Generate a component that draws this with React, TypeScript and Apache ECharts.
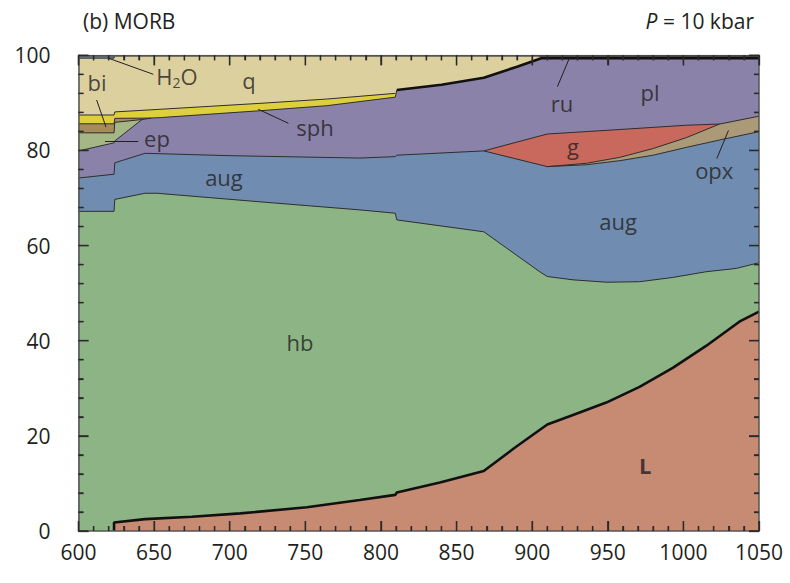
import React, { useEffect, useRef } from "react";
import * as echarts from "echarts";

// Axis ranges and tick steps
const X_MIN = 600, X_MAX = 1050, X_STEP = 50, X_MINOR = 10;
const Y_MIN = 0, Y_MAX = 100, Y_STEP = 20, Y_MINOR = 4;

// Phase-field boundaries (cumulative mode %, top edge of each field) vs temperature (°C)
const ruTop = [[900, 100], [1050, 100]];
const h2oTop = [[600, 100], [623.5, 100]];
const qTop = [[600, 99.4], [623.5, 99.4], [624, 100], [903, 100], [908, 99.5]];
const sphTop = [[600, 87.45], [623.5, 87.45], [624, 88.1], [654, 88.65], [720, 89.9], [764, 90.8], [809.5, 92.0]];
const biTop = [[600, 85.6], [623.5, 85.6], [624, 86.75], [648, 86.8]];
const epTop = [[600, 83.7], [623.5, 83.7], [624, 85.9], [642, 86.5]];
const plTop = [[600, 79.9], [623.5, 81.6], [624, 82.0], [642, 86.5], [648, 86.8], [654, 86.9], [720, 88.35], [764, 89.4], [809.5, 91.2], [810.5, 92.7], [840, 93.8], [868, 95.3], [890, 97.6], [906, 99.4], [1050, 99.4]];
const gTop = [[868, 79.9], [910, 83.45], [958, 84.4], [1002, 85.3], [1024, 85.55]];
const opxTop = [[910, 76.6], [936, 77.3], [958, 78.55], [980, 80.4], [1002, 82.7], [1024, 85.55], [1050, 87.2]];
const augTop = [[600, 74.2], [623.5, 75.0], [624, 77.4], [644, 79.4], [700, 78.9], [786, 78.4], [809.5, 78.7], [810.5, 79.0], [868, 79.9], [910, 76.6], [936, 77.0], [958, 77.85], [980, 79.0], [1002, 80.65], [1024, 82.2], [1050, 83.95]];
const hbTop = [[600, 67.2], [623.5, 67.2], [624, 69.7], [644, 71.0], [652, 71.0], [720, 69.2], [786, 67.5], [809.5, 66.8], [810.5, 65.4], [868, 62.9], [905, 54.5], [910, 53.5], [927, 52.8], [949, 52.3], [971, 52.4], [993, 53.3], [1015, 54.5], [1035, 55.2], [1050, 56.4]];
const meltTop = [[623.5, 0], [623.5, 1.8], [644, 2.5], [675, 3.0], [707, 3.7], [751, 5.0], [786, 6.5], [809.5, 7.6], [810.5, 8.1], [839, 10.2], [868, 12.6], [888, 17.4], [910, 22.4], [927, 24.4], [949, 27.0], [971, 30.3], [993, 34.3], [1015, 38.9], [1037, 44.0], [1050, 46.1]];
const quartzOutLine = [[810.5, 92.7], [840, 93.8], [868, 95.3], [890, 97.6], [906, 99.4], [1050, 99.4]];

// Field labels (data coordinates)
const labelText = ["q", "bi", "ep", "sph", "aug", "hb", "aug", "ru", "pl", "g", "opx", "L"];
const labelX = [712.8, 612.2, 651.9, 756.4, 696.2, 746.5, 956.8, 919.8, 977.9, 927.0, 1020.4, 974.7];
const labelY = [94.8, 94.4, 82.6, 84.9, 74.4, 39.7, 65.2, 90.0, 92.3, 80.9, 75.9, 13.9];
const h2oLabel = [665.1, 95.6];

// Leader lines
const leaderFrom = [[619.7, 99.4], [612.0, 90.6], [617.5, 82.0], [718.9, 88.65], [924.6, 99.4], [1029.8, 84.2]];
const leaderTo = [[649.5, 96.0], [618.2, 84.9], [639.5, 82.0], [738.8, 85.7], [916.7, 93.4], [1022.1, 78.3]];

const FONT = "Open Sans";
const INK = "#231f20";
const TICK = "#2a2a2a";

const W = 790, H = 583;
const GRID = { left: 78.5, right: 31, top: 55.3, bottom: 52 };
const MAJOR_LEN = 10, MINOR_LEN = 5;

function field(name: string, data: number[][], color: string, width = 1, lineColor = "#2e2e2e") {
  return {
    type: "line",
    name,
    data,
    z: 1,
    symbol: "none",
    silent: true,
    lineStyle: { color: lineColor, width },
    areaStyle: { color, opacity: 1, origin: "start" },
    itemStyle: { color },
  };
}

function axisCommon(extra: any) {
  return {
    type: "value",
    z: 30,
    axisLine: { show: true, onZero: false, lineStyle: { color: "#555", width: 1.5 } },
    axisTick: { show: true, inside: true, length: MAJOR_LEN, lineStyle: { color: TICK, width: 1.3, opacity: 1 } },
    minorTick: { show: true, splitNumber: 5, length: MINOR_LEN, lineStyle: { color: TICK, width: 1.3, opacity: 1 } },
    splitLine: { show: false },
    minorSplitLine: { show: false },
    ...extra,
  };
}

export default function App() {
  const ref = useRef<HTMLDivElement>(null);
  useEffect(() => {
    if (!ref.current) return;
    const chart = echarts.init(ref.current, undefined, { renderer: "svg" });
    const labelSeries = {
      type: "scatter",
      symbolSize: 0,
      silent: true,
      z: 10,
      data: [
        ...labelText.map((t, i) => ({
          value: [labelX[i], labelY[i]],
          label: {
            show: true,
            position: "inside",
            formatter: t,
            fontFamily: FONT,
            fontSize: 22,
            fontWeight: t === "L" ? "bold" : "normal",
            color: INK,
          },
        })),
        {
          value: h2oLabel,
          label: {
            show: true,
            position: "inside",
            formatter: "{n|H}{s|2}{n|O}",
            color: INK,
            rich: {
              n: { fontFamily: FONT, fontSize: 22, color: INK },
              s: { fontFamily: FONT, fontSize: 14, color: INK, padding: [12, 0, 0, 0] },
            },
          },
        },
      ],
    };
    const leaders = {
      type: "lines",
      coordinateSystem: "cartesian2d",
      silent: true,
      z: 9,
      lineStyle: { color: INK, width: 1, opacity: 1 },
      data: leaderFrom.map((f, i) => ({ coords: [f, leaderTo[i]] })),
    };
    chart.setOption({
      animation: false,
      title: [
        {
          text: "(b) MORB",
          left: 78,
          top: 5,
          textStyle: { fontFamily: FONT, fontSize: 21, fontWeight: "normal", color: INK },
        },
        {
          text: "{i|P} = 10 kbar",
          right: 31,
          top: 5,
          textStyle: {
            fontFamily: FONT,
            fontSize: 21,
            fontWeight: "normal",
            color: INK,
            rich: { i: { fontFamily: FONT, fontSize: 21, fontStyle: "italic", color: INK } },
          },
        },
      ],
      grid: { ...GRID, containLabel: false },
      xAxis: [
        axisCommon({
          min: X_MIN, max: X_MAX, interval: X_STEP, position: "bottom",
          axisLabel: { fontFamily: FONT, fontSize: 21, color: INK, margin: 10, formatter: (v: number) => String(v) },
        }),
        axisCommon({ min: X_MIN, max: X_MAX, interval: X_STEP, position: "top", axisLabel: { show: false } }),
      ],
      yAxis: [
        axisCommon({
          min: Y_MIN, max: Y_MAX, interval: Y_STEP, position: "left",
          axisLabel: { fontFamily: FONT, fontSize: 21, color: INK, margin: 28, formatter: (v: number) => String(v) },
        }),
        axisCommon({ min: Y_MIN, max: Y_MAX, interval: Y_STEP, position: "right", axisLabel: { show: false } }),
      ],
      series: [
        field("ru", ruTop, "#1a1a1a", 1, "#1a1a1a"),
        field("H2O", h2oTop, "#708cb0"),
        field("q", qTop, "#ddd09f"),
        field("sph", sphTop, "#decf3c"),
        field("bi", biTop, "#a88b5c"),
        field("ep", epTop, "#a5b785"),
        field("pl", plTop, "#8a82a8"),
        field("g", gTop, "#c9685c"),
        field("opx", opxTop, "#aa9a78"),
        field("aug", augTop, "#708cb0"),
        field("hb", hbTop, "#8db485"),
        field("L", meltTop, "#c78b73", 2.6, "#111"),
        {
          type: "line",
          data: quartzOutLine,
          z: 3,
          symbol: "none",
          silent: true,
          lineStyle: { color: "#111", width: 2.6 },
        },
        leaders,
        labelSeries,
      ],
    });

    // Inward tick marks on all four sides, placed through the axes' own scales
    try {
      const tickEls: any[] = [];
      const px = (x: number, y: number) => chart.convertToPixel({ gridIndex: 0 }, [x, y]) as number[];
      const seg = (x1: number, y1: number, x2: number, y2: number) => ({
        type: "line",
        silent: true,
        z: 50,
        shape: { x1, y1, x2, y2 },
        style: { stroke: TICK, lineWidth: 1.3 },
      });
      for (let v = X_MIN; v <= X_MAX + 1e-9; v += X_MINOR) {
        const len = Math.abs((v - X_MIN) % X_STEP) < 1e-9 ? MAJOR_LEN : MINOR_LEN;
        const b = px(v, Y_MIN);
        const t = px(v, Y_MAX);
        if (b && t) {
          tickEls.push(seg(b[0], b[1], b[0], b[1] - len));
          tickEls.push(seg(t[0], t[1], t[0], t[1] + len));
        }
      }
      for (let v = Y_MIN; v <= Y_MAX + 1e-9; v += Y_MINOR) {
        const len = Math.abs((v - Y_MIN) % Y_STEP) < 1e-9 ? MAJOR_LEN : MINOR_LEN;
        const l = px(X_MIN, v);
        const r = px(X_MAX, v);
        if (l && r) {
          tickEls.push(seg(l[0], l[1], l[0] + len, l[1]));
          tickEls.push(seg(r[0], r[1], r[0] - len, r[1]));
        }
      }
      chart.setOption({ graphic: { elements: tickEls } });
    } catch (e) {
      // ticks are decorative; ignore failures
    }

    return () => chart.dispose();
  }, []);
  return (
    <div
      ref={ref}
      style={{ position: "fixed", left: 0, top: 0, width: W, height: H, background: "#fff" }}
    />
  );
}
